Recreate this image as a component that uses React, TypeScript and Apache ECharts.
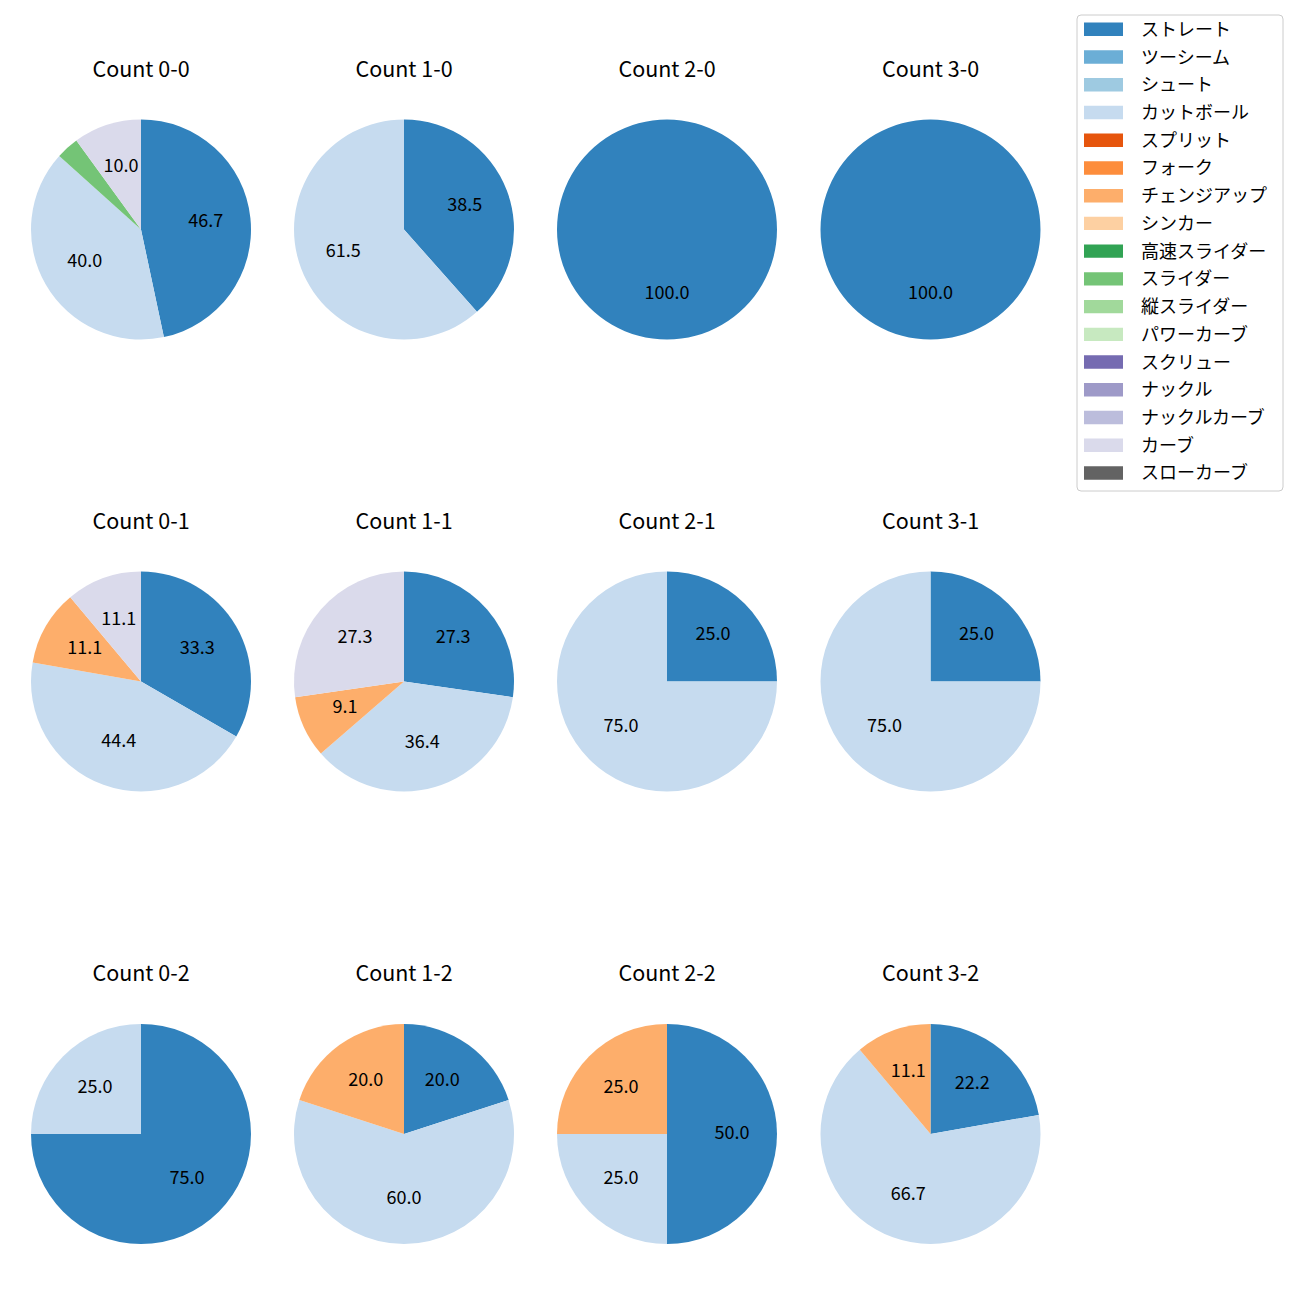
import React, { useEffect, useRef } from 'react';
import * as echarts from 'echarts';

const pitchTypes = ['ストレート', 'ツーシーム', 'シュート', 'カットボール', 'スプリット', 'フォーク', 'チェンジアップ', 'シンカー', '高速スライダー', 'スライダー', '縦スライダー', 'パワーカーブ', 'スクリュー', 'ナックル', 'ナックルカーブ', 'カーブ', 'スローカーブ'];
const pitchColors = ['#3182bd', '#6baed6', '#9ecae1', '#c6dbef', '#e6550d', '#fd8d3c', '#fdae6b', '#fdd0a2', '#31a354', '#74c476', '#a1d99b', '#c7e9c0', '#756bb1', '#9e9ac8', '#bcbddc', '#dadaeb', '#636363'];

const countTitles = ['Count 0-0', 'Count 1-0', 'Count 2-0', 'Count 3-0', 'Count 0-1', 'Count 1-1', 'Count 2-1', 'Count 3-1', 'Count 0-2', 'Count 1-2', 'Count 2-2', 'Count 3-2'];

// pitch counts per ball-strike count (same order as countTitles)
const straight = [14, 5, 1, 1, 3, 3, 1, 1, 3, 1, 2, 2];
const cutter = [12, 8, 0, 0, 4, 4, 3, 3, 1, 3, 1, 6];
const changeup = [0, 0, 0, 0, 1, 1, 0, 0, 0, 1, 1, 1];
const slider = [1, 0, 0, 0, 0, 0, 0, 0, 0, 0, 0, 0];
const curve = [3, 0, 0, 0, 1, 3, 0, 0, 0, 0, 0, 0];

const seriesByType: Record<string, number[]> = {
  'ストレート': straight,
  'カットボール': cutter,
  'チェンジアップ': changeup,
  'スライダー': slider,
  'カーブ': curve,
};

const FONT = '"Noto Sans CJK JP", "Noto Sans", sans-serif';
const colX = [141, 404, 667, 930.5];
const rowY = [229.5, 681.5, 1134];
const titleY = [69, 521, 973];
const R = 110;
const LABEL_R0 = 14;

export default function App() {
  const ref = useRef<HTMLDivElement>(null);
  useEffect(() => {
    if (!ref.current) return;
    const chart = echarts.init(ref.current, undefined, { renderer: 'svg' });
    const series: any[] = [];
    const titles: any[] = [];
    countTitles.forEach((t, i) => {
      const col = i % 4;
      const row = Math.floor(i / 4);
      const data: any[] = [];
      pitchTypes.forEach((name, k) => {
        const arr = seriesByType[name];
        if (arr && arr[i] > 0) {
          data.push({ name, value: arr[i], itemStyle: { color: pitchColors[k] } });
        }
      });
      const total = data.reduce((s, d) => s + d.value, 0);
      const center = [colX[col], rowY[row]];
      series.push({
        type: 'pie',
        center,
        radius: [0, R],
        startAngle: 90,
        clockwise: true,
        silent: true,
        itemStyle: { borderWidth: 0 },
        label: { show: false },
        labelLine: { show: false },
        emphasis: { disabled: true },
        data,
      });
      series.push({
        type: 'pie',
        center,
        radius: [LABEL_R0, R],
        startAngle: 90,
        clockwise: true,
        silent: true,
        itemStyle: { color: 'rgba(0,0,0,0)', borderWidth: 0 },
        label: {
          show: true,
          position: 'inside',
          color: '#000',
          fontSize: 18,
          fontFamily: FONT,
          formatter: (p: any) => {
            const pct = (p.value / total) * 100;
            return pct < 5 ? '' : pct.toFixed(1);
          },
        },
        labelLayout: { dy: -3.5 },
        labelLine: { show: false },
        emphasis: { disabled: true },
        data: data.map((d) => ({ name: d.name, value: d.value })),
      });
      titles.push({
        text: t,
        left: colX[col],
        top: titleY[row] - 12.5,
        textAlign: 'center',
        padding: 0,
        textStyle: { fontSize: 21.5, fontWeight: 'normal', color: '#000', fontFamily: FONT },
      });
    });

    const legendTop = 29.3;
    const legendStep = 27.73;
    const legendChildren: any[] = [
      {
        type: 'rect',
        shape: { x: 1077, y: 15, width: 206, height: 476, r: 4 },
        style: { fill: 'rgba(255,255,255,0.8)', stroke: '#cccccc', lineWidth: 1 },
      },
    ];
    pitchTypes.forEach((name, k) => {
      const cy = legendTop + k * legendStep;
      legendChildren.push({
        type: 'rect',
        shape: { x: 1084, y: cy - 6.7, width: 39, height: 13.4 },
        style: { fill: pitchColors[k] },
      });
      legendChildren.push({
        type: 'text',
        x: 1141,
        y: cy - 1.5,
        style: { text: name, fontSize: 18, fontFamily: FONT, fill: '#000', verticalAlign: 'middle', align: 'left' },
      });
    });

    chart.setOption({
      animation: false,
      backgroundColor: '#fff',
      title: titles,
      series,
      graphic: [{ type: 'group', children: legendChildren }],
    });
    return () => chart.dispose();
  }, []);
  return <div ref={ref} style={{ position: 'fixed', left: 0, top: 0, width: 1300, height: 1300 }} />;
}
